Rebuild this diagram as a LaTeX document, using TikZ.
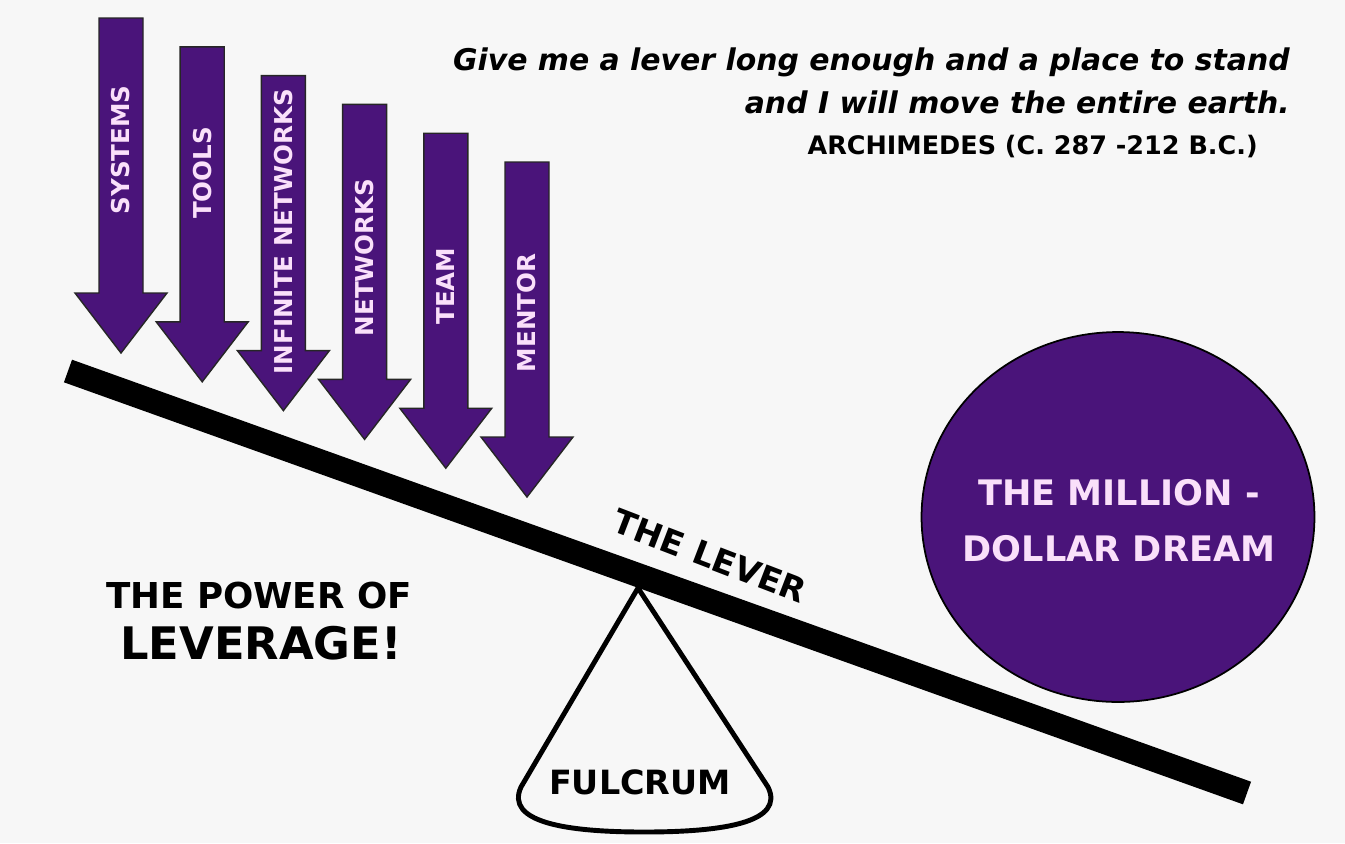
\documentclass[tikz,border=0pt]{standalone}
\usepackage{fontspec}
\setmainfont{DejaVu Sans}
\definecolor{dreampurple}{RGB}{74,20,122}
\definecolor{labelpink}{RGB}{250,224,250}
\definecolor{paper}{RGB}{247,247,247}

\begin{document}
\begin{tikzpicture}[x=0.02cm,y=-0.02cm,inner sep=0pt,
  force/.style={fill=dreampurple,draw=black!85,line width=0.8pt,line join=miter},
  forcetext/.style={text=labelpink,font=\fontsize{14}{16}\selectfont\bfseries,rotate=90}]
  \fill[paper] (0,0) rectangle (1345,843);
  \foreach \lbl/\off [count=\i from 0] in {SYSTEMS/132,TOOLS/126,INFINITE NETWORKS/156,NETWORKS/153,TEAM/153,MENTOR/151}
    {
      \begin{scope}[shift={(81.2*\i,28.8*\i)}]
      \draw[force] (99,18) -- (143,18) -- (143,293) -- (167,293) -- (121,353) -- (75,293) -- (99,293) -- cycle;
      \node[forcetext] (force\i) at (121,18+\off) {\lbl};
      \end{scope}
    }
  \node[anchor=east,font=\fontsize{17}{20}\selectfont\bfseries\itshape] (quote1) at (1290,62) {Give me a lever long enough and a place to stand};
  \node[anchor=east,font=\fontsize{17}{20}\selectfont\bfseries\itshape] (quote2) at (1290,102) {and I will move the entire earth.};
  \node[anchor=east,font=\fontsize{14.5}{17}\selectfont\bfseries] (author) at (1258,147) {ARCHIMEDES (C. 287 -212 B.C.)};
  \coordinate (pivot) at (638,588);
  \draw[line width=2.8pt,line join=round] (pivot) -- (521,787) .. controls (505,822) and (565,832) .. (644,832) .. controls (725,832) and (785,822) .. (768,787) -- cycle;
  \node[font=\fontsize{19}{22}\selectfont\bfseries] (fulcrum) at (640,782) {FULCRUM};
  \coordinate (leverL) at (68,371);
  \coordinate (leverR) at (1247,793);
  \draw[line width=0.48cm] (leverL) -- (leverR);
  \node[font=\fontsize{19}{22}\selectfont\bfseries,rotate=-21] (lever) at (710,556) {THE LEVER};
  \node[font=\fontsize{20.3}{24}\selectfont\bfseries] (power) at (259,596) {THE POWER OF};
  \node[font=\fontsize{25.5}{30}\selectfont\bfseries] (leverage) at (261,643) {LEVERAGE!};
  \draw[fill=dreampurple,line width=1pt] (1118,517) ellipse [x radius=3.93cm,y radius=3.7cm];
  \node[text=labelpink,font=\fontsize{20}{31.7}\selectfont\bfseries,align=center] (dream) at (1119,521) {THE MILLION -\\DOLLAR DREAM};
\end{tikzpicture}
\end{document}
